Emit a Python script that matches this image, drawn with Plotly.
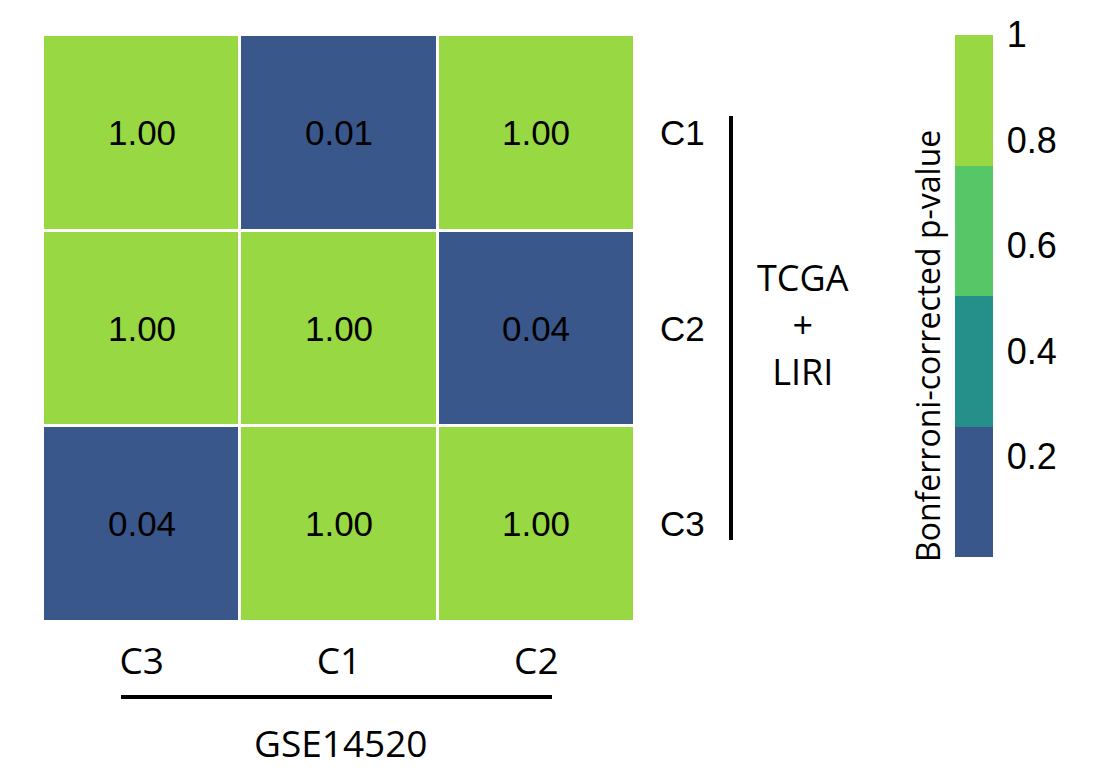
import plotly.graph_objects as go

# Data
cols = ["C3", "C1", "C2"]          # GSE14520 clusters (x)
rows = ["C3", "C2", "C1"]          # TCGA + LIRI clusters (y, bottom to top)
pvals = [
    [0.04, 1.00, 1.00],  # row C3
    [1.00, 1.00, 0.04],  # row C2
    [1.00, 0.01, 1.00],  # row C1
]
cb_tickvals = [0.2, 0.4, 0.6, 0.8, 1.0]
cb_ticktext = ["0.2", "0.4", "0.6", "0.8", "1"]
bin_colors = ["#3A578C", "#25908A", "#56C667", "#97D843"]

OFF = 8  # page body margin
W, H = 1117 - OFF, 778 - OFF
L, R, T, B = 43 - OFF, 635 - OFF, 35 - OFF, 622 - OFF


def px(xp):
    return (xp - OFF - L) / (R - L)


def py(yp):
    return (B - (yp - OFF)) / (B - T)


cscale = []
n = len(bin_colors)
for i, c in enumerate(bin_colors):
    cscale.append([i / n, c])
    cscale.append([(i + 1) / n, c])

fig = go.Figure(go.Heatmap(
    x=cols, y=rows, z=pvals,
    zmin=0.01, zmax=1.0,
    colorscale=cscale,
    xgap=3, ygap=3,
    texttemplate="%{z:.2f}",
    textfont=dict(family="Liberation Sans, Arial", size=35, color="black"),
    colorbar=dict(
        xref="container", yref="container",
        x=(955 - OFF) / W, xanchor="left",
        y=1 - 35 / H, yanchor="top",
        thickness=38, thicknessmode="pixels",
        len=522, lenmode="pixels",
        outlinewidth=0, ticks="outside", ticklen=7,
        tickcolor="rgba(0,0,0,0)",
        tickvals=cb_tickvals, ticktext=cb_ticktext,
        tickfont=dict(family="Liberation Sans, Arial", size=36, color="black"),
        xpad=0, ypad=0,
    ),
    hoverinfo="skip",
))

fig.update_layout(
    width=W, height=H,
    margin=dict(l=L, r=W - R, t=T, b=H - B, pad=0),
    paper_bgcolor="white", plot_bgcolor="white",
    xaxis=dict(showgrid=False, zeroline=False, showline=False, ticks="",
               ticklabelstandoff=14,
               tickfont=dict(family="Open Sans", size=37, color="black")),
    yaxis=dict(showgrid=False, zeroline=False, showline=False, ticks="",
               side="right", ticklabelstandoff=24,
               tickfont=dict(family="Liberation Sans, Arial", size=35, color="black")),
    showlegend=False,
)

# bracket lines
fig.add_shape(type="line", xref="paper", yref="paper",
              x0=px(121), x1=px(552), y0=py(697), y1=py(697),
              line=dict(color="black", width=4))
fig.add_shape(type="line", xref="paper", yref="paper",
              x0=px(731), x1=px(731), y0=py(116), y1=py(540),
              line=dict(color="black", width=4))

fig.add_annotation(text="GSE14520", xref="paper", yref="paper",
                   x=px(341), y=py(742),
                   showarrow=False, xanchor="center", yanchor="middle",
                   font=dict(family="Open Sans", size=37, color="black"))
fig.add_annotation(text="TCGA<br>+<br>LIRI", xref="paper", yref="paper",
                   x=px(803), y=py(324),
                   showarrow=False, xanchor="center", yanchor="middle",
                   font=dict(family="Open Sans", size=36, color="black"))
fig.add_annotation(text="Bonferroni-corrected p-value", xref="paper", yref="paper",
                   x=px(927), y=py(346),
                   textangle=-90,
                   showarrow=False, xanchor="center", yanchor="middle",
                   font=dict(family="Open Sans", size=32, color="black"))

fig.write_html("out.html")
